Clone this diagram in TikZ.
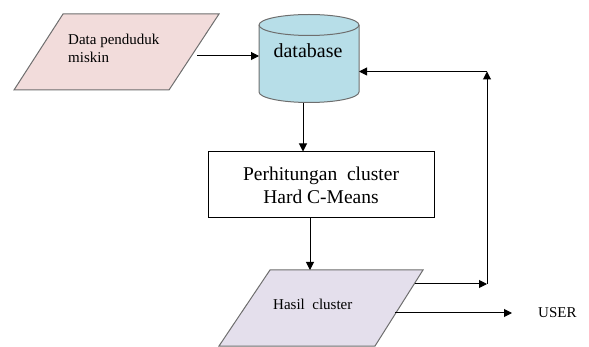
\documentclass[tikz,border=0pt]{standalone}
\usepackage{fontspec}
\setmainfont{Liberation Serif}
\usetikzlibrary{arrows.meta}
\definecolor{pinkfill}{HTML}{F2DCDB}
\definecolor{bluefill}{HTML}{B7DEE8}
\definecolor{lavfill}{HTML}{E4DFEC}
\definecolor{edgegray}{HTML}{6E6E6E}
\tikzset{
  conn/.style={draw=black, line width=1pt, -{Triangle[length=8pt,width=8pt]}},
  plain/.style={draw=black, line width=1pt},
  iobox/.style={draw=edgegray, line width=1pt},
  smalltxt/.style={font=\fontsize{15}{18}\selectfont, inner sep=0pt},
  bigtxt/.style={font=\fontsize{19.5}{23}\selectfont, inner sep=0pt},
}
\begin{document}
\begin{tikzpicture}[x=1pt,y=-1pt]
\useasboundingbox (0,0) rectangle (589,347);
% input parallelogram
\draw[iobox, fill=pinkfill] (63,14) -- (219,14) -- (169,90) -- (14,90) -- cycle;
\node[smalltxt, anchor=north west, align=left] (data) at (68,34) {Data penduduk\\miskin};
\coordinate (dataR) at (197,56);
% database cylinder
\draw[iobox, fill=bluefill] (259,25) -- (259,92)
  arc[start angle=180, end angle=360, x radius=50pt, y radius=10.5pt]
  -- (359,25) arc[start angle=0, end angle=180, x radius=50pt, y radius=10.5pt] -- cycle;
\draw[iobox] (259,25) arc[start angle=180, end angle=360, x radius=50pt, y radius=10.5pt];
\node[inner sep=0pt, font=\fontsize{20}{24}\selectfont] (db) at (308,51) {database};
\coordinate (dbL) at (259,56);
\coordinate (dbR) at (359,71.5);
\coordinate (dbB) at (303,103);
% process box
\node[draw=black, line width=1pt, fill=white, minimum width=226pt, minimum height=66pt,
      inner sep=0pt, align=center, bigtxt] (proc) at (321,185)
  {Perhitungan\ \ cluster\\Hard C-Means};
% output parallelogram
\draw[iobox, fill=lavfill] (270,270) -- (423,270) -- (375,346) -- (219,346) -- cycle;
\node[smalltxt, anchor=west] (hasil) at (273,304) {Hasil\ \ cluster};
\coordinate (hasilTop) at (310,270);
\coordinate (hasilR1) at (415,284);
\coordinate (hasilR2) at (395,313);
\coordinate (corner1) at (487,284);
\coordinate (corner2) at (487,71.5);
\coordinate (userA) at (512,313);
\node[smalltxt, anchor=west] (user) at (538,313) {USER};
% connectors
\draw[conn] (dataR) -- (dbL);
\draw[conn] (dbB) -- (dbB |- proc.north);
\draw[conn] (hasilTop |- proc.south) -- (hasilTop);
\draw[conn] (hasilR1) -- (corner1);
\draw[conn] (corner1) -- (corner2);
\draw[conn] (corner2) -- (dbR);
\draw[conn] (hasilR2) -- (userA);
\end{tikzpicture}
\end{document}
